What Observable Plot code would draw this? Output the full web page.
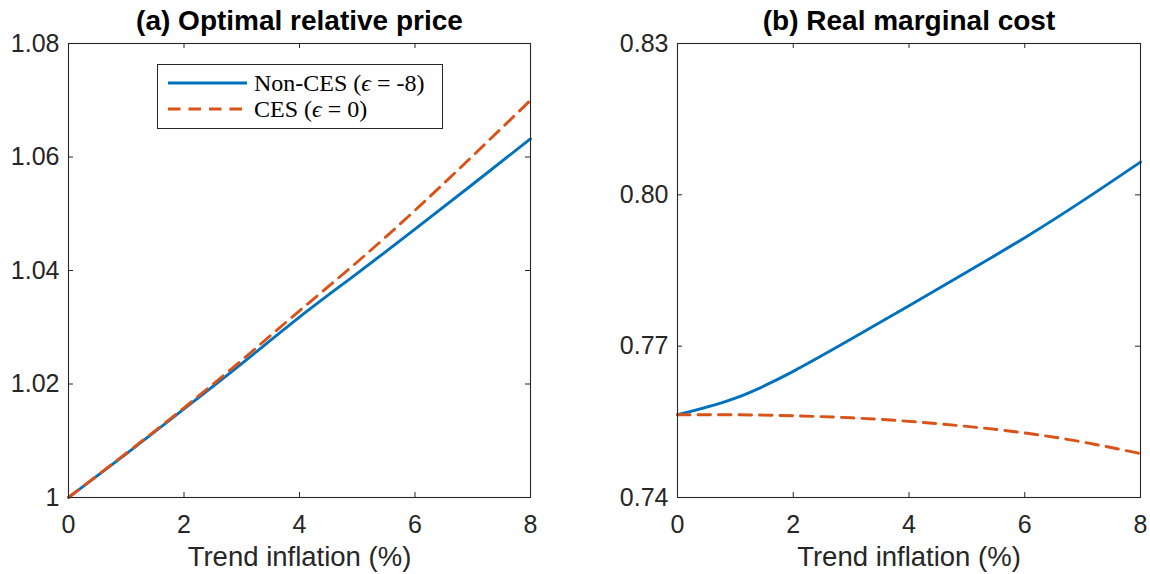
<!DOCTYPE html>
<html><head><meta charset="utf-8">
<script src="https://cdn.jsdelivr.net/npm/d3@7"></script>
<script src="https://cdn.jsdelivr.net/npm/@observablehq/plot@0.6"></script>
<style>
body{margin:0;background:#fff;}
#wrap{position:relative;width:1150px;height:574px;overflow:hidden;background:#fff;font-family:"Liberation Sans",Arial,sans-serif;}
.panel{position:absolute;top:0;}
.legend{position:absolute;left:157px;top:64px;width:284px;height:63px;border:1px solid #262626;background:#fff;}
</style></head><body><div id="wrap"></div>
<script>
const inflation = [0, 1, 2, 3, 4, 5, 6, 7, 8];
const priceNonCES = [1.0, 1.0077, 1.0156, 1.0236, 1.0318, 1.0395, 1.0473, 1.0552, 1.0632];
const priceCES    = [1.0, 1.0078, 1.0158, 1.0242, 1.0329, 1.0415, 1.0506, 1.0602, 1.0700];
const mcNonCES    = [0.7564, 0.7597, 0.7650, 0.7714, 0.7780, 0.7847, 0.7915, 0.7988, 0.8065];
const mcCES       = [0.7564, 0.7564, 0.7562, 0.7558, 0.7551, 0.7541, 0.7528, 0.7510, 0.7487];
const xTicks = [0, 2, 4, 6, 8];
const priceTicks = [1, 1.02, 1.04, 1.06, 1.08];
const mcTicks = [0.74, 0.77, 0.80, 0.83];
const titles = ["(a) Optimal relative price", "(b) Real marginal cost"];
const xLabel = "Trend inflation (%)";
const legendLabels = [["Non-CES (", "ϵ", " = -8)"], ["CES (", "ϵ", " = 0)"]];
const colors = ["#0072BD", "#D95319"];
const dashes = ["none", "12.5,8"];

const wrap = document.getElementById("wrap");
const H = 574, MT = 43, MB = 77;

function panel({title, yDomain, yTicks, yFmt, nonCES, ces, left, width, ml, mr}) {
  const rows = (vals) => inflation.map((x, i) => ({x, y: vals[i]}));
  const plotH = H - MT - MB;
  const plotW = width - ml - mr;
  const tl = 5;
  const ink = "#262626";
  const chart = Plot.plot({
    width, height: H, marginLeft: ml, marginRight: mr, marginTop: MT, marginBottom: MB,
    style: {fontFamily: "Liberation Sans, Arial, sans-serif", color: ink, background: "transparent", overflow: "visible"},
    x: {domain: [0, 8], label: null},
    y: {domain: yDomain, label: null},
    marks: [
      Plot.line(rows(nonCES), {x: "x", y: "y", stroke: colors[0], strokeWidth: 2.9, curve: "natural"}),
      Plot.line(rows(ces), {x: "x", y: "y", stroke: colors[1], strokeWidth: 2.9, strokeDasharray: dashes[1], curve: "natural"}),
      Plot.tickX(xTicks, {x: d => d, stroke: ink, insetTop: plotH - tl}),
      Plot.tickX(xTicks, {x: d => d, stroke: ink, insetBottom: plotH - tl}),
      Plot.tickY(yTicks, {y: d => d, stroke: ink, insetRight: plotW - tl}),
      Plot.tickY(yTicks, {y: d => d, stroke: ink, insetLeft: plotW - tl}),
      Plot.frame({stroke: ink, strokeWidth: 1.1}),
      Plot.axisX(xTicks, {tickSize: 0, tickPadding: 18, fontSize: 25, fill: ink, label: null}),
      Plot.axisY(yTicks, {tickSize: 0, tickPadding: 9, fontSize: 25, fill: ink, tickFormat: yFmt, label: null}),
      Plot.text([xLabel], {text: d => d, frameAnchor: "bottom", lineAnchor: "middle", dy: 60, fontSize: 27.5, fill: ink}),
      Plot.text([title], {text: d => d, frameAnchor: "top", lineAnchor: "middle", dy: -22, fontSize: 28, fontWeight: "bold", fill: "#000"})
    ]
  });
  chart.classList.add("panel");
  chart.style.left = left + "px";
  wrap.appendChild(chart);
}

panel({title: titles[0], yDomain: [1, 1.08], yTicks: priceTicks, yFmt: d => d === 1 ? "1" : d.toFixed(2),
  nonCES: priceNonCES, ces: priceCES, left: 0, width: 575, ml: 68, mr: 45});
panel({title: titles[1], yDomain: [0.74, 0.83], yTicks: mcTicks, yFmt: d => d.toFixed(2),
  nonCES: mcNonCES, ces: mcCES, left: 575, width: 575, ml: 102, mr: 10});

// legend
const leg = document.createElement("div");
leg.className = "legend";
const ns = "http://www.w3.org/2000/svg";
const svg = document.createElementNS(ns, "svg");
svg.setAttribute("width", 284); svg.setAttribute("height", 63);
svg.style.position = "absolute"; svg.style.left = "0"; svg.style.top = "0";
legendLabels.forEach((parts, i) => {
  const y = 18 + i * 26;
  const ln = document.createElementNS(ns, "line");
  ln.setAttribute("x1", 10); ln.setAttribute("x2", 89);
  ln.setAttribute("y1", y); ln.setAttribute("y2", y);
  ln.setAttribute("stroke", colors[i]); ln.setAttribute("stroke-width", 2.9);
  if (dashes[i] !== "none") ln.setAttribute("stroke-dasharray", dashes[i]);
  svg.appendChild(ln);
  const t = document.createElementNS(ns, "text");
  t.setAttribute("x", 96); t.setAttribute("y", y + 8);
  t.setAttribute("font-family", "Liberation Serif, DejaVu Serif, serif");
  t.setAttribute("font-size", 24); t.setAttribute("fill", "#000");
  parts.forEach((p, j) => {
    const ts = document.createElementNS(ns, "tspan");
    ts.textContent = p;
    if (j === 1) ts.setAttribute("font-style", "italic");
    t.appendChild(ts);
  });
  svg.appendChild(t);
});
leg.appendChild(svg);
wrap.appendChild(leg);
</script>
</body></html>
